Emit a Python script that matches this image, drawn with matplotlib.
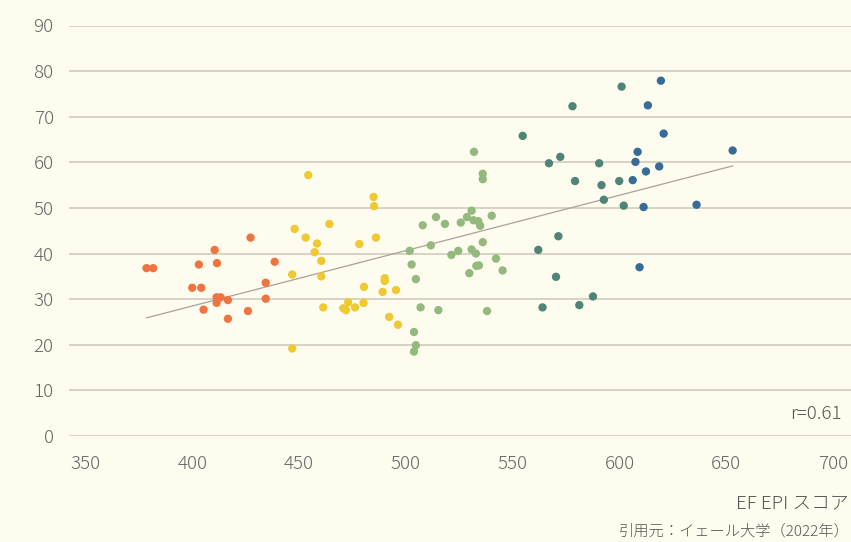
import numpy as np
import matplotlib
matplotlib.use("Agg")
import matplotlib.pyplot as plt

plt.rcParams['font.family'] = ['Noto Sans CJK JP', 'DejaVu Sans']

# EF EPI score (x) vs Yale EPI score (y), grouped by proficiency band
orange_x = [378.6, 381.7, 403.1, 400.0, 404.2, 410.5, 411.6, 427.3, 438.6, 434.4, 434.4, 411.4, 413.3, 411.4, 416.7, 405.3, 426.1, 416.7]
orange_y = [36.8, 36.8, 37.6, 32.5, 32.5, 40.8, 37.9, 43.5, 38.2, 33.6, 30.1, 30.4, 30.4, 29.2, 29.8, 27.7, 27.4, 25.7]

yellow_x = [454.3, 447.9, 453.1, 458.4, 457.3, 460.4, 446.8, 460.4, 461.3, 446.8, 464.2, 484.9, 485.1, 486.0, 478.2, 490.1, 490.1, 480.4, 489.1, 495.4, 473.0, 480.2, 470.7, 472.0, 476.2, 492.2, 496.3]
yellow_y = [57.2, 45.4, 43.5, 42.2, 40.3, 38.4, 35.4, 35.0, 28.2, 19.2, 46.5, 52.4, 50.4, 43.5, 42.1, 34.6, 34.0, 32.7, 31.6, 32.0, 29.3, 29.2, 28.0, 27.6, 28.2, 26.1, 24.4]

green_x = [507.9, 501.8, 502.7, 504.7, 506.9, 503.8, 504.7, 503.8, 511.7, 531.9, 536.0, 536.0, 530.8, 514.1, 540.2, 528.6, 531.7, 533.9, 534.8, 518.3, 525.7, 536.0, 524.5, 521.3, 530.8, 532.8, 542.2, 533.0, 534.2, 529.7, 545.3, 515.2, 538.0]
green_y = [46.2, 40.6, 37.6, 34.4, 28.2, 22.8, 19.9, 18.5, 41.8, 62.3, 57.5, 56.3, 49.4, 48.0, 48.3, 48.0, 47.3, 47.1, 46.1, 46.5, 46.8, 42.5, 40.6, 39.7, 40.9, 40.0, 38.9, 37.3, 37.4, 35.7, 36.3, 27.6, 27.4]

teal_x = [601.0, 578.0, 554.7, 567.0, 572.3, 590.5, 579.2, 591.6, 599.9, 592.7, 602.0, 571.4, 562.0, 570.3, 587.6, 581.2, 564.0]
teal_y = [76.6, 72.3, 65.8, 59.8, 61.2, 59.8, 55.9, 55.0, 55.9, 51.8, 50.5, 43.8, 40.8, 34.9, 30.6, 28.7, 28.2]

blue_x = [619.4, 613.3, 620.7, 608.5, 607.5, 612.4, 618.6, 606.2, 611.3, 636.1, 609.4, 653.0]
blue_y = [77.9, 72.5, 66.3, 62.3, 60.1, 58.0, 59.1, 56.1, 50.2, 50.7, 37.0, 62.6]

groups = [
    (orange_x, orange_y, '#F07442'),
    (yellow_x, yellow_y, '#EFC832'),
    (green_x, green_y, '#93BA7C'),
    (teal_x, teal_y, '#4F8479'),
    (blue_x, blue_y, '#366C97'),
]

x_ticks = [350, 400, 450, 500, 550, 600, 650, 700]
y_ticks = [0, 10, 20, 30, 40, 50, 60, 70, 80, 90]
r_label = "r=0.61"
x_title = "EF EPI スコア"
source = "引用元：イェール大学（2022年）"

bg = '#FEFCEE'
fig = plt.figure(figsize=(8.51, 5.42), dpi=100, facecolor=bg)
ax = fig.add_axes([69/851, 1-436/542, 782/851, (436-25.5)/542], facecolor=bg)

for xs, ys, c in groups:
    ax.scatter(xs, ys, s=36, color=c, edgecolors='none', zorder=3)

all_x = np.concatenate([np.array(g[0]) for g in groups])
all_y = np.concatenate([np.array(g[1]) for g in groups])
k, b = np.polyfit(all_x, all_y, 1)
lx = np.array([all_x.min(), all_x.max()])
ax.plot(lx, k*lx + b, color='#A8A399', lw=0.9, zorder=2)

ax.set_xlim(342.3, 708.4)
ax.set_ylim(0, 90)
ax.set_xticks(x_ticks)
ax.set_yticks(y_ticks)
ax.grid(axis='y', color='#D3D0C2', lw=1.3, zorder=1)
ax.grid(axis='x', visible=False)
for s in ax.spines.values():
    s.set_visible(False)
ax.tick_params(axis='both', length=0, labelsize=13.5, labelcolor='#666666')
ax.tick_params(axis='x', pad=14)
ax.tick_params(axis='y', pad=11)
for lab in ax.get_xticklabels() + ax.get_yticklabels():
    lab.set_fontweight('light')

fig.text(842/851, 1-414/542, r_label, ha='right', va='center', fontsize=13.5, color='#555555', fontweight='light')
fig.text(849/851, 1-503/542, x_title, ha='right', va='center', fontsize=13.5, color='#555555', fontweight='light')
fig.text(850/851, 1-531/542, source, ha='right', va='center', fontsize=11, color='#555555', fontweight='light')

fig.savefig('out.png', dpi=100, facecolor=bg)
